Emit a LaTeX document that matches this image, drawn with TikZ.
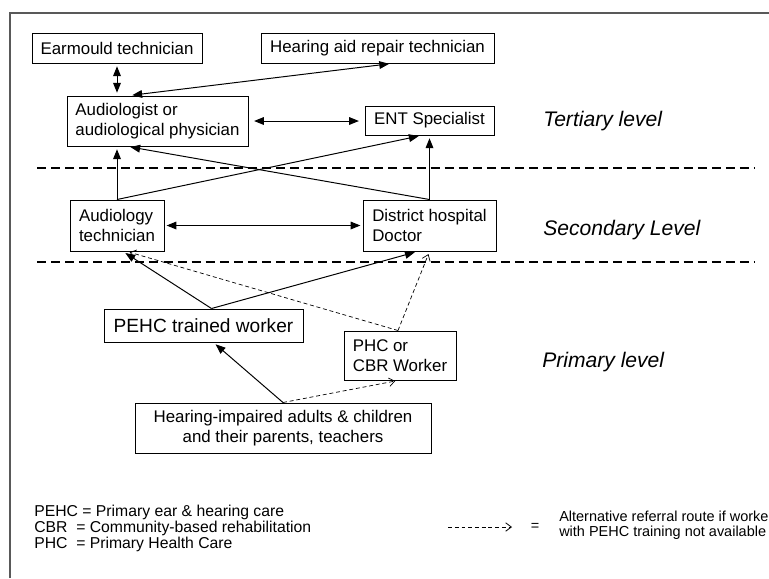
\documentclass[tikz,border=0pt]{standalone}
\usepackage{fontspec}
\setmainfont{Liberation Sans}
\usetikzlibrary{arrows.meta}

\begin{document}
\begin{tikzpicture}[
    >={Triangle[length=7pt,width=5.5pt]},
    box/.style={draw, line width=.7pt, inner sep=0pt, align=left,
      font=\fontsize{12}{14.2}\selectfont},
    level/.style={anchor=base west, inner sep=0pt, font=\fontsize{15}{18}\selectfont\itshape},
    key/.style={anchor=base west, inner sep=0pt, font=\fontsize{11.2}{13}\selectfont},
    altkey/.style={anchor=base west, inner sep=0pt, font=\fontsize{10.3}{12}\selectfont},
    sep/.style={dash pattern=on 6.4pt off 3.6pt, line width=1.1pt},
    ref/.style={->, line width=.7pt},
    alt/.style={-{Straight Barb[length=4pt,width=6pt]},
      dash pattern=on 2.8pt off 2pt, line width=.5pt},
  ]
  \useasboundingbox (0,0) rectangle (19.225,-14.45);

  % frame and level borders
  \draw[black!65, line width=.8pt] (0.25,-14.45) |- (19.225,-0.325);
  \draw[sep] (0.925,-4.2) -- (18.875,-4.2);
  \draw[sep] (0.925,-6.55) -- (18.875,-6.55);

  \begin{scope}[every node/.style={box}]
    \node[minimum width=4.25cm, minimum height=.75cm] (ear) at (2.925,-1.2) {Earmould technician};
    \node[minimum width=5.825cm, minimum height=.75cm] (rep) at (9.4375,-1.2) {Hearing aid repair technician};
    \node[minimum width=4.525cm, minimum height=1.25cm] (aud) at (3.9375,-3.025) {Audiologist or\\audiological physician};
    \node[minimum width=3.225cm, minimum height=.725cm] (ent) at (10.7375,-3.0125) {ENT Specialist};
    \node[minimum width=2.35cm, minimum height=1.275cm] (tech) at (2.925,-5.6375) {Audiology\\technician};
    \node[minimum width=3.325cm, minimum height=1.275cm] (doc) at (10.7375,-5.6375) {District hospital\\Doctor};
    \node[minimum width=4.975cm, minimum height=.825cm, font=\fontsize{13.6}{16}\selectfont] (pehc) at (5.0875,-8.1375) {PEHC trained worker};
    \node[minimum width=2.8cm, minimum height=1.225cm] (phc) at (10.0,-8.8875) {PHC or\\CBR Worker};
    \node[minimum width=7.4cm, minimum height=1.25cm, align=center] (hi) at (7.075,-10.7) {Hearing-impaired adults \& children\\and their parents, teachers};
  \end{scope}

  \node[level] (ter) at (13.575,-3.15) {Tertiary level};
  \node[level] (sec) at (13.575,-5.875) {Secondary Level};
  \node[level] (pri) at (13.55,-9.175) {Primary level};

  \begin{scope}[shorten >=2pt]
    \draw[ref, <->, shorten <=2pt] (ear.south) -- (ear.south |- aud.north);
    \draw[ref, <->, shorten <=2pt] ([xshift=-.7cm]aud.north) -- ([xshift=.36cm]rep.south);
    \draw[ref, <->, shorten <=4pt, shorten >=4pt] (aud.east) -- (aud.east -| ent.west);
    \draw[ref] (tech.north) -- (tech.north |- aud.south);
    \draw[ref] (doc.north) -- ([xshift=-.75cm]aud.south);
    \draw[ref] (doc.north) -- (ent.south);
    \draw[ref] (tech.north) -- ([xshift=-.2cm]ent.south);
    \draw[ref, <->, shorten <=1.5pt, shorten >=1.5pt] (tech.east) -- (doc.west);
    \draw[ref] ([xshift=.2cm]pehc.north) -- ([xshift=.15cm]tech.south);
    \draw[ref] ([xshift=.2cm]pehc.north) -- ([xshift=-.3cm]doc.south);
    \draw[alt] ([xshift=-.05cm]phc.north) -- ([xshift=.25cm]tech.south);
    \draw[alt] ([xshift=-.05cm]phc.north) -- (doc.south);
    \draw[ref] (hi.north) -- ([xshift=.25cm]pehc.south);
    \draw[alt] (hi.north) -- ([xshift=-.05cm]phc.south);
  \end{scope}

  % legend
  \node[key] (k1) at (0.85,-12.91) {PEHC = Primary ear \& hearing care};
  \node[key] (k2) at (0.85,-13.31) {CBR\ \ = Community-based rehabilitation};
  \node[key] (k3) at (0.85,-13.71) {PHC\ \ = Primary Health Care};
  \coordinate (altA) at (11.2,-13.175);
  \coordinate (altB) at (12.8,-13.175);
  \draw[alt, line width=.6pt] (altA) -- (altB);
  \node[font=\fontsize{10.3}{12}\selectfont, inner sep=0pt] (eq) at (13.375,-13.175) {=};
  \node[altkey] (alt1) at (13.975,-13.04) {Alternative referral route if worker};
  \node[altkey] (alt2) at (13.975,-13.42) {with PEHC training not available};
\end{tikzpicture}
\end{document}
